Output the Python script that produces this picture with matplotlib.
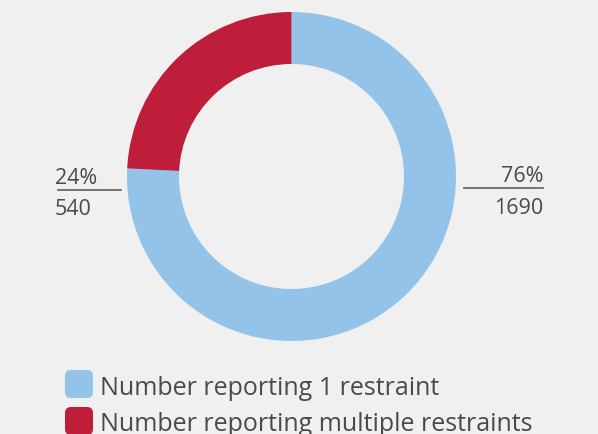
import matplotlib
matplotlib.use("Agg")
import matplotlib.pyplot as plt
from matplotlib.patches import FancyBboxPatch

categories = ["Number reporting 1 restraint", "Number reporting multiple restraints"]
values = [1690, 540]
percent_labels = ["76%", "24%"]
colors = ["#93c3e8", "#be1e3a"]

W, H = 598, 435
fig = plt.figure(figsize=(W / 100, H / 100), dpi=100, facecolor="#f0f0f0")
ax = fig.add_axes([0, 0, 1, 1])
ax.set_facecolor("#f0f0f0")

cx, cy = 291.5, H - 177.5
R, width = 164.5, 52
ax.pie(values, colors=colors, startangle=90, counterclock=False,
       radius=R, center=(cx, cy), wedgeprops=dict(width=width, edgecolor="none"))
ax.set_xlim(0, W)
ax.set_ylim(0, H)
ax.set_aspect("equal")
ax.axis("off")

font = "Open Sans"
tc = "#4a4a4a"
lc = "#6a6a6a"
lsize = 15.5

# right label (blue)
ax.plot([464, 543], [H - 188.7, H - 188.7], color=lc, lw=1.3)
ax.text(543, H - 182, percent_labels[0], ha="right", va="baseline", fontsize=lsize, color=tc, family=font)
ax.text(543, H - 214, str(values[0]), ha="right", va="baseline", fontsize=lsize, color=tc, family=font)

# left label (red)
ax.plot([58, 121], [H - 191.3, H - 191.3], color=lc, lw=1.3)
ax.text(55, H - 184, percent_labels[1], ha="left", va="baseline", fontsize=lsize, color=tc, family=font)
ax.text(55, H - 215.5, str(values[1]), ha="left", va="baseline", fontsize=lsize, color=tc, family=font)

# legend
rows_top = [371, 408]
baselines = [395, 431.5]
for cat, col, top, bl in zip(categories, colors, rows_top, baselines):
    box = FancyBboxPatch((65, H - top - 28), 28, 28,
                         boxstyle="round,pad=0,rounding_size=6",
                         facecolor=col, edgecolor="none")
    ax.add_patch(box)
    ax.text(100, H - bl, cat, ha="left", va="baseline", fontsize=18, color=tc, family=font)

fig.savefig("out.png", dpi=100, facecolor=fig.get_facecolor())
